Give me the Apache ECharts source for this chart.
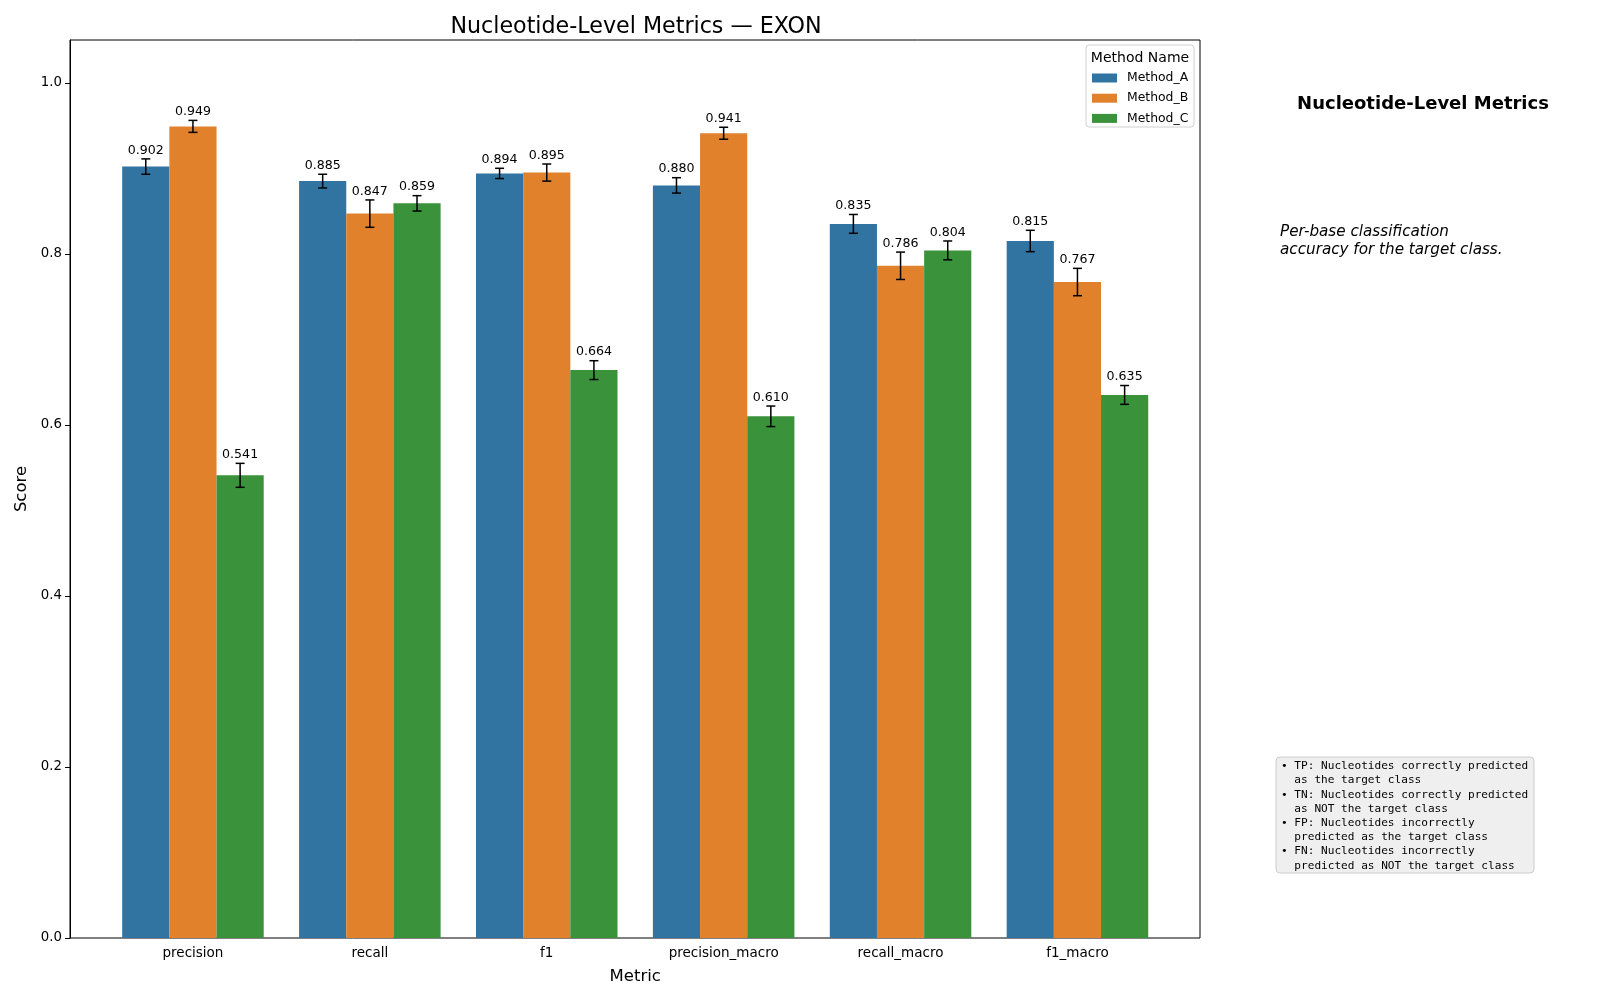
<!DOCTYPE html>
<html><head><meta charset="utf-8">
<script src="https://cdn.jsdelivr.net/npm/echarts@6/dist/echarts.min.js"></script>
<style>html,body{margin:0;padding:0;background:#fff}#c{width:1600px;height:1000px}</style>
</head><body><div id="c"></div>
<script>
const categories = ['precision','recall','f1','precision_macro','recall_macro','f1_macro'];
const methods = ['Method_A','Method_B','Method_C'];
const methodA = [0.902,0.885,0.894,0.880,0.835,0.815];
const methodB = [0.949,0.847,0.895,0.941,0.786,0.767];
const methodC = [0.541,0.859,0.664,0.610,0.804,0.635];
const errA = [0.009,0.008,0.006,0.009,0.011,0.0125];
const errB = [0.007,0.016,0.010,0.007,0.016,0.016];
const errC = [0.014,0.009,0.011,0.012,0.011,0.011];
const yTicks = [0,0.2,0.4,0.6,0.8,1.0];
const colors = ['#3274a1','#e1812c','#3a923a'];

const values = [methodA, methodB, methodC];
const errs = [errA, errB, errC];
const FONT = 'DejaVu Sans';

const chart = echarts.init(document.getElementById('c'));
const series = [];
methods.forEach((m, k) => {
  series.push({
    name: m, type: 'bar', data: values[k], barWidth: '26.667%', barGap: '0%',
    xAxisIndex: 1, yAxisIndex: 1,
    itemStyle: {color: colors[k]}, z: 2
  });
});
methods.forEach((m, k) => {
  series.push({
    name: m + '_err', type: 'custom', z: 5, xAxisIndex: 1, yAxisIndex: 1,
    data: values[k].map((v, i) => [i, v, errs[k][i]]),
    renderItem: function (params, api) {
      const i = api.value(0), v = api.value(1), e = api.value(2);
      const band = api.size([1, 0])[0];
      const cx = api.coord([i, 0])[0] + (k - 1) * band * 0.8 / 3;
      const top = api.coord([i, v + e])[1];
      const bot = api.coord([i, v - e])[1];
      const cap = 4.5;
      const st = {stroke: '#000', lineWidth: 1.5};
      return {type: 'group', children: [
        {type: 'line', shape: {x1: cx, y1: top, x2: cx, y2: bot}, style: st},
        {type: 'line', shape: {x1: cx - cap, y1: top, x2: cx + cap, y2: top}, style: st},
        {type: 'line', shape: {x1: cx - cap, y1: bot, x2: cx + cap, y2: bot}, style: st},
        {type: 'text', x: cx, y: top - 2, style: {text: v.toFixed(3), align: 'center', verticalAlign: 'bottom',
          fontFamily: FONT, fontSize: 12.6, fill: '#000'}}
      ]};
    }
  });
});

const boxLines = [
  '\u2022 TP: Nucleotides correctly predicted',
  '  as the target class',
  '\u2022 TN: Nucleotides correctly predicted',
  '  as NOT the target class',
  '\u2022 FP: Nucleotides incorrectly',
  '  predicted as the target class',
  '\u2022 FN: Nucleotides incorrectly',
  '  predicted as NOT the target class'
];

chart.setOption({
  animation: false,
  textStyle: {fontFamily: FONT},
  title: {text: 'Nucleotide-Level Metrics \u2014 EXON', left: 631, textAlign: 'center', top: 11,
    textStyle: {fontFamily: FONT, fontSize: 22.2, fontWeight: 'normal', color: '#000'}},
  grid: [
    {left: 70, right: 400, top: 40, bottom: 62, show: true, borderColor: '#000', borderWidth: 1, backgroundColor: 'transparent'},
    {left: 104.5, right: 434.1, top: 40, bottom: 62}
  ],
  legend: {
    data: methods.map(m => ({name: m, icon: 'rect'})),
    orient: 'vertical', left: 1092, top: 72, itemWidth: 25, itemHeight: 9, itemGap: 8.2,
    textStyle: {fontFamily: FONT, fontSize: 12.4, color: '#000', padding: [0, 0, 0, 5]}, padding: 0
  },
  xAxis: [
    {type: 'value', gridIndex: 0, min: 0, max: 1, show: false},
    {
      type: 'category', gridIndex: 1, data: categories, name: 'Metric', nameLocation: 'middle', nameGap: 30,
      nameTextStyle: {fontFamily: FONT, fontSize: 16.5, color: '#000'},
      axisLine: {show: false},
      axisTick: {alignWithLabel: true, length: 5, lineStyle: {color: '#000'}},
      axisLabel: {fontFamily: FONT, fontSize: 13.5, color: '#000', margin: 8}
    }
  ],
  yAxis: [
    {
      type: 'value', gridIndex: 0, min: 0, max: 1.05, interval: 0.2, name: 'Score', nameLocation: 'middle', nameGap: 32,
      nameTextStyle: {fontFamily: FONT, fontSize: 16.5, color: '#000'},
      splitLine: {show: false},
      axisLine: {show: true, lineStyle: {color: '#000', width: 1}},
      axisTick: {show: true, length: 5, lineStyle: {color: '#000'}},
      axisLabel: {fontFamily: FONT, fontSize: 13.3, color: '#000', margin: 8, showMaxLabel: false,
        formatter: v => yTicks.some(t => Math.abs(t - v) < 1e-9) ? v.toFixed(1) : ''}
    },
    {type: 'value', gridIndex: 1, min: 0, max: 1.05, show: false, splitLine: {show: false}}
  ],
  graphic: [
    {type: 'rect', shape: {x: 1086, y: 45, width: 108, height: 82, r: 3},
      style: {fill: 'rgba(255,255,255,0.8)', stroke: '#d0d0d0', lineWidth: 1}, z: 1},
    {type: 'text', x: 1140, y: 58, z: 10, style: {text: 'Method Name', align: 'center', verticalAlign: 'middle',
      fontFamily: FONT, fontSize: 14, fill: '#000'}},
    {type: 'text', x: 1423, y: 104, style: {text: 'Nucleotide-Level Metrics', align: 'center', verticalAlign: 'middle',
      fontFamily: FONT, fontSize: 18, fontWeight: 'bold', fill: '#000'}},
    {type: 'text', x: 1280, y: 241, style: {text: 'Per-base classification\naccuracy for the target class.', align: 'left', verticalAlign: 'middle',
      fontFamily: FONT, fontSize: 15.2, fontStyle: 'italic', fill: '#000', lineHeight: 18}},
    {type: 'rect', shape: {x: 1276, y: 757, width: 258, height: 116, r: 4},
      style: {fill: '#efefef', stroke: '#cccccc', lineWidth: 1}},
    {type: 'text', x: 1281, y: 816, style: {text: boxLines.join('\n'), align: 'left', verticalAlign: 'middle',
      fontFamily: 'DejaVu Sans Mono', fontSize: 11.1, fill: '#000', lineHeight: 14.2}}
  ],
  series: series
});
</script></body></html>
